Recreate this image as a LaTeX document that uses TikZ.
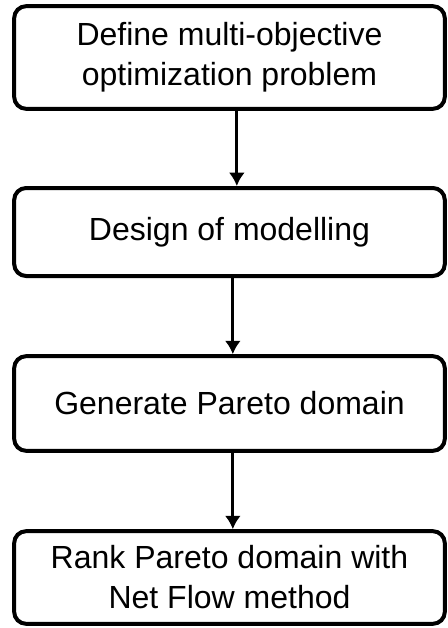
\documentclass[tikz,border=0pt]{standalone}
\usepackage{fontspec}
\setmainfont{Liberation Sans}
\usetikzlibrary{arrows.meta,positioning}
\tikzset{
  >={Latex[length=10pt,width=12pt]},
  every node/.style={font=\fontsize{24}{30}\selectfont},
  stepbox/.style={draw=black, line width=3pt, rounded corners=9pt, fill=white,
    minimum width=323pt, align=center, inner sep=0pt},
  flow/.style={->, line width=2.2pt, draw=black},
}
\begin{document}
\begin{tikzpicture}[x=0.75pt,y=-0.75pt]
  \useasboundingbox (0,0) rectangle (448,628);

  % process steps
  \node[stepbox, minimum height=77pt] (define) at (229.5,57.5) {Define multi-objective\\optimization problem};
  \node[stepbox, minimum height=66pt] (design) at (229.5,232) {Design of modelling};
  \node[stepbox, minimum height=71pt] (pareto) at (229.5,403.5) {Generate Pareto domain};
  \node[stepbox, minimum height=69.5pt] (rank) at (229.5,577.5) {Rank Pareto domain with\\Net Flow method};

  % arrows
  \draw[flow] ([xshift=5.5pt]define.south) -- ([xshift=5.5pt]design.north);
  \draw[flow] ([xshift=2.5pt]design.south) -- ([xshift=2.5pt]pareto.north);
  \draw[flow] ([xshift=2.5pt]pareto.south) -- ([xshift=2.5pt]rank.north);
\end{tikzpicture}
\end{document}
